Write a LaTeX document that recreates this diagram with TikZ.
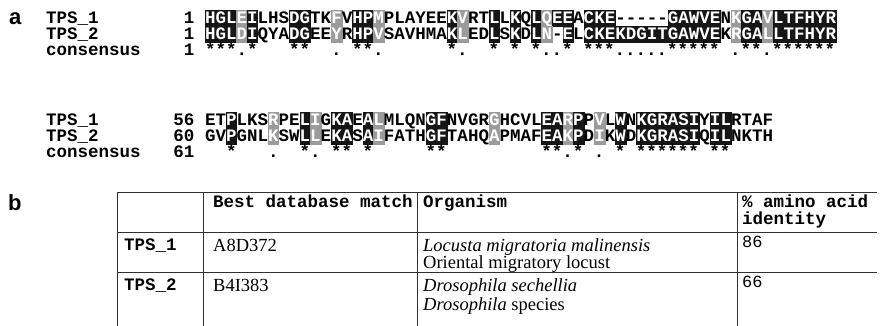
\documentclass[tikz,border=0pt]{standalone}
\usepackage{fontspec}
\setmainfont{Liberation Serif}
\setsansfont{Liberation Sans}
\setmonofont{Liberation Mono}

\definecolor{shadek}{HTML}{161616}
\definecolor{shadeg}{HTML}{9B9B9B}
\definecolor{rule}{HTML}{303030}

\tikzset{
  seqfont/.style={font=\fontsize{17.5}{17.5}\selectfont\ttfamily\bfseries},
  res/.style={seqfont, inner sep=0pt, anchor=base},
  lbl/.style={seqfont, inner sep=0pt},
  cell b/.style={fill=shadek, draw=shadek, line width=0.3pt},
  cell g/.style={fill=shadeg, draw=shadeg, line width=0.3pt},
  cell w/.style={},
  ink b/.style={text=white},
  ink g/.style={text=white},
  ink w/.style={text=black},
  panel/.style={font=\fontsize{22}{22}\selectfont\sffamily\bfseries, inner sep=0pt, anchor=base west},
  hdr/.style={font=\fontsize{17.5}{17.5}\selectfont\ttfamily\bfseries, inner sep=0pt, anchor=base west},
  pct/.style={font=\fontsize{17}{17}\selectfont\ttfamily, inner sep=0pt, anchor=base west},
  body/.style={font=\fontsize{18.5}{18.5}\selectfont, inner sep=0pt, anchor=base west},
  tbl/.style={draw=rule, line width=0.9pt},
}

% one shaded alignment row: node-name prefix, centre line (y), residue/shade list
\newcommand\alnrow[3]{%
  \foreach \ch/\sh [count=\i] in {#3} {
    \pgfmathsetmacro\xl{205+(\i-1)*10.52}
    \path[cell \sh] (\xl,#2-8) rectangle ++(10.52,16);
    \node[res, ink \sh] (#1-\i) at (\xl+5.26,#2+5.5) {\ch};
  }%
}

\begin{document}
\begin{tikzpicture}[x=1pt,y=-1pt]
\useasboundingbox (0,0) rectangle (885,326);

% ---------------- panel a: alignment ----------------
\node[panel] (pa) at (9,25) {a};

% block 1
\node[lbl, anchor=base west] (l11) at (46,23.5) {TPS\_1};
\node[lbl, anchor=base west] (l12) at (46,39.5) {TPS\_2};
\node[lbl, anchor=base west] (l13) at (46,55.5) {consensus};
\node[lbl, anchor=base east] (n11) at (194.5,23.5) {1};
\node[lbl, anchor=base east] (n12) at (194.5,39.5) {1};
\node[lbl, anchor=base east] (n13) at (194.5,55.5) {1};

\alnrow{a1}{18}{H/b,G/b,L/b,E/g,I/b,L/w,H/w,S/w,D/b,G/b,T/w,K/w,F/g,V/w,H/b,P/b,M/g,P/w,L/w,A/w,
 Y/w,E/w,E/w,K/b,V/g,R/w,T/w,L/b,L/w,K/b,Q/w,L/b,Q/g,E/b,E/b,A/w,C/b,K/b,E/b,-/w,
 -/w,-/w,-/w,-/w,G/b,A/b,W/b,V/b,E/b,N/w,K/g,G/b,A/b,V/g,L/b,T/b,F/b,H/b,Y/b,R/b}
\alnrow{a2}{34}{H/b,G/b,L/b,D/g,I/b,Q/w,Y/w,A/w,D/b,G/b,E/w,E/w,Y/g,R/w,H/b,P/b,V/g,S/w,A/w,V/w,
 H/w,M/w,A/w,K/b,L/g,E/w,D/w,L/b,S/w,K/b,D/w,L/b,N/g,-/w,E/b,L/w,C/b,K/b,E/b,K/b,
 D/b,G/b,I/b,T/b,G/b,A/b,W/b,V/b,E/b,K/w,R/g,G/b,A/b,L/g,L/b,T/b,F/b,H/b,Y/b,R/b}
\node[lbl, anchor=base west] (c1) at (205,55.5)
  {***.*~~~**~~.~**.~~~~~~*.~~*~*~*..*~***.....*****~.**.******};

% block 2
\node[lbl, anchor=base west] (l21) at (46,125.5) {TPS\_1};
\node[lbl, anchor=base west] (l22) at (46,141.5) {TPS\_2};
\node[lbl, anchor=base west] (l23) at (46,157.5) {consensus};
\node[lbl, anchor=base east] (n21) at (194.5,125.5) {56};
\node[lbl, anchor=base east] (n22) at (194.5,141.5) {60};
\node[lbl, anchor=base east] (n23) at (194.5,157.5) {61};

\alnrow{b1}{120}{E/w,T/w,P/b,L/w,K/w,S/w,R/g,P/w,E/w,L/b,I/g,G/w,K/b,A/b,E/w,A/b,L/g,M/w,L/w,Q/w,
 N/w,G/b,F/b,N/w,V/w,G/w,R/w,G/g,H/w,C/w,V/w,L/w,E/b,A/b,R/g,P/b,P/w,V/g,L/w,W/b,
 N/w,K/b,G/b,R/b,A/b,S/b,I/b,Y/w,I/b,L/b,R/w,T/w,A/w,F/w}
\alnrow{b2}{136}{G/w,V/w,P/b,G/w,N/w,L/w,K/g,S/w,W/w,L/b,L/g,E/w,K/b,A/b,S/w,A/b,I/g,F/w,A/w,T/w,
 H/w,G/b,F/b,T/w,A/w,H/w,Q/w,A/g,P/w,M/w,A/w,F/w,E/b,A/b,K/g,P/b,D/w,I/g,K/w,W/b,
 D/w,K/b,G/b,R/b,A/b,S/b,I/b,Q/w,I/b,L/b,N/w,K/w,T/w,H/w}
\node[lbl, anchor=base west] (c2) at (205,157.5)
  {~~*~~~.~~*.~**~*~~~~~**~~~~~~~~~**.*~.~*~******~**};

% ---------------- panel b: table ----------------
\node[panel] (pb) at (8,210) {b};

\draw[tbl] (117,192) -- (877,192);
\draw[tbl] (117,232) -- (877,232);
\draw[tbl] (117,272) -- (877,272);
\foreach \xv in {117,203,417,737} \draw[tbl] (\xv,192) -- (\xv,326);

\node[hdr] (h1) at (213,207.5) {Best database match};
\node[hdr] (h2) at (423,207.5) {Organism};
\node[hdr] (h3) at (742,207.5) {\% amino acid};
\node[hdr] (h4) at (742,224) {identity};

\node[hdr] (r1a) at (124,250) {TPS\_1};
\node[body] (r1b) at (213,251) {A8D372};
\node[body] (r1c) at (423,251) {\itshape Locusta migratoria malinensis};
\node[body] (r1d) at (423,268) {Oriental migratory locust};
\node[pct] (r1e) at (742,247) {86};

\node[hdr] (r2a) at (124,290) {TPS\_2};
\node[body] (r2b) at (213,291) {B4I383};
\node[body] (r2c) at (423,291) {\itshape Drosophila sechellia};
\node[body] (r2d) at (423,310) {\textit{Drosophila} species};
\node[pct] (r2e) at (742,287) {66};
\end{tikzpicture}
\end{document}
